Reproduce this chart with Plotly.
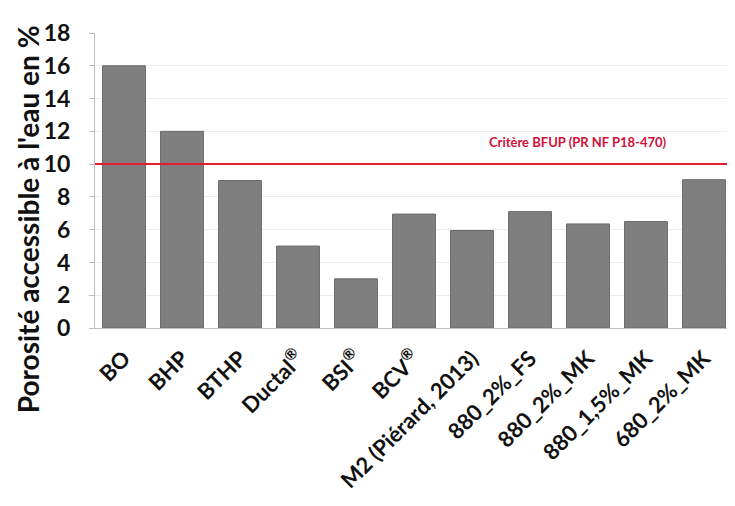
import plotly.graph_objects as go

categories = ["BO", "BHP", "BTHP", "Ductal<sup>®</sup>", "BSI<sup>®</sup>", "BCV<sup>®</sup>",
              "M2 (Piérard, 2013)", "880_2%_FS", "880_2%_MK", "880_1,5%_MK", "680_2%_MK"]
porosity = [16, 12, 9, 5, 3, 6.95, 5.95, 7.1, 6.35, 6.5, 9.05]
threshold = 10
threshold_label = "Critère BFUP (PR NF P18-470)"
y_ticks = [0, 2, 4, 6, 8, 10, 12, 14, 16, 18]

FONT = "Lato, 'Open Sans', sans-serif"

fig = go.Figure()
fig.add_trace(go.Bar(
    x=categories, y=porosity,
    marker=dict(color="#7f7f7f", line=dict(color="#6c6c6c", width=1)),
))
fig.add_shape(type="line", xref="paper", x0=0, x1=1, yref="y", y0=threshold, y1=threshold,
              line=dict(color="#e0202e", width=2))
fig.add_annotation(xref="paper", x=0.757, xanchor="center", yref="y", y=threshold + 1.35,
                   yanchor="middle",
                   text="<b>" + threshold_label + "</b>", showarrow=False,
                   font=dict(family=FONT, size=13, color="#d0103a"))
fig.add_annotation(xref="paper", x=-0.106, xanchor="center", yref="paper", y=0.37, yanchor="middle",
                   text="<b>Porosité accessible à l'eau en %</b>", textangle=-90, showarrow=False,
                   font=dict(family=FONT, size=28, color="#111111"))

fig.update_layout(
    width=735, height=506,
    margin=dict(l=87, r=10, t=13, b=186),
    plot_bgcolor="white", paper_bgcolor="white",
    showlegend=False, bargap=0.26,
    font=dict(family=FONT, color="#111111"),
)
fig.update_xaxes(
    tickangle=-45, tickfont=dict(family=FONT, size=22, weight="bold", color="#111111"),
    showline=True, linecolor="#bfbfbf", linewidth=1, ticks="", ticklabelstandoff=8,
)
fig.update_yaxes(
    range=[0, 18], tickvals=y_ticks, tickfont=dict(family=FONT, size=23, weight="bold", color="#111111"),
    showgrid=True, gridcolor="#ececec", gridwidth=1,
    showline=True, linecolor="#bfbfbf", linewidth=1, ticks="outside", ticklen=5, tickcolor="#bfbfbf",
    zeroline=False, ticklabelstandoff=14, ticklabeloverflow="allow",
)
fig.write_html("out.html")
